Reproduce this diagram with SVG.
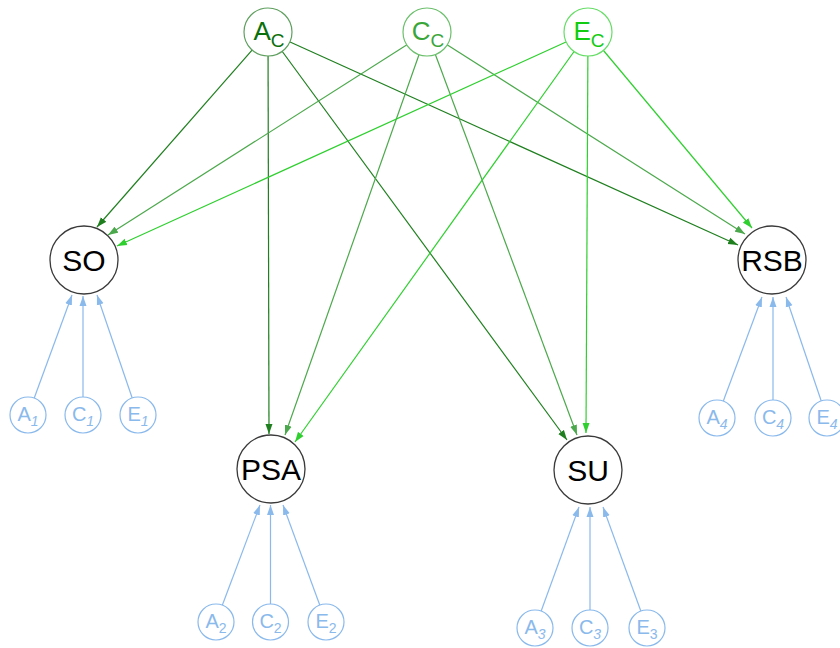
<svg xmlns="http://www.w3.org/2000/svg" width="840" height="648" viewBox="0 0 840 648">
<style>
text{font-family:"Liberation Sans",Arial,sans-serif;text-anchor:middle}
.big circle{fill:#fff;stroke:#3a3a3a;stroke-width:1.3}
.big text{font-size:30px;fill:#000}
.lat circle{fill:#fff;stroke:#8ab9ec;stroke-width:1.2}
.lat text{font-size:20px;fill:#8ab9ec}
.lat tspan{font-size:14px}
.it{font-style:italic}
.top text{font-size:26px}
.top tspan{font-size:19px}
.e{fill:none;stroke-width:1.2}
.ea{stroke:#1f7f1f;marker-end:url(#ma)}
.ec{stroke:#4ca84c;marker-end:url(#mc)}
.ee{stroke:#2fcf2f;marker-end:url(#me)}
.eb{stroke:#8ab9ec;marker-end:url(#mb)}
</style>
<defs>
<marker id="ma" markerUnits="userSpaceOnUse" markerWidth="10" markerHeight="8" refX="10" refY="4" orient="auto"><path d="M0,0.5 L10,4 L0,7.5 z" fill="#1f7f1f"/></marker>
<marker id="mc" markerUnits="userSpaceOnUse" markerWidth="10" markerHeight="8" refX="10" refY="4" orient="auto"><path d="M0,0.5 L10,4 L0,7.5 z" fill="#4ca84c"/></marker>
<marker id="me" markerUnits="userSpaceOnUse" markerWidth="10" markerHeight="8" refX="10" refY="4" orient="auto"><path d="M0,0.5 L10,4 L0,7.5 z" fill="#2fcf2f"/></marker>
<marker id="mb" markerUnits="userSpaceOnUse" markerWidth="10" markerHeight="8" refX="10" refY="4" orient="auto"><path d="M0,0.5 L10,4 L0,7.5 z" fill="#8ab9ec"/></marker>
</defs>
<rect width="840" height="648" fill="#fff"/>
<g id="connectors">
<line class="e ea" x1="268" y1="32" x2="97" y2="227"/>
<line class="e ea" x1="268" y1="32" x2="269" y2="434"/>
<line class="e ea" x1="268" y1="32" x2="567" y2="440"/>
<line class="e ea" x1="268" y1="32" x2="738" y2="245"/>
<line class="e ec" x1="427" y1="32" x2="108" y2="235"/>
<line class="e ec" x1="427" y1="32" x2="285" y2="435"/>
<line class="e ec" x1="427" y1="32" x2="577" y2="435"/>
<line class="e ec" x1="427" y1="32" x2="745" y2="234"/>
<line class="e ee" x1="588" y1="32" x2="117" y2="246"/>
<line class="e ee" x1="588" y1="32" x2="295" y2="442"/>
<line class="e ee" x1="588" y1="32" x2="586" y2="433"/>
<line class="e ee" x1="588" y1="32" x2="752" y2="228"/>
<line class="e eb" x1="28" y1="415" x2="72" y2="295"/>
<line class="e eb" x1="83" y1="415" x2="83" y2="296"/>
<line class="e eb" x1="138" y1="415" x2="97" y2="295"/>
<line class="e eb" x1="216" y1="622" x2="260" y2="505"/>
<line class="e eb" x1="270.5" y1="622" x2="270.5" y2="505"/>
<line class="e eb" x1="326" y1="622" x2="283" y2="505"/>
<line class="e eb" x1="535" y1="628" x2="579" y2="507"/>
<line class="e eb" x1="590" y1="628" x2="590" y2="507"/>
<line class="e eb" x1="647" y1="628" x2="603" y2="507"/>
<line class="e eb" x1="717" y1="418" x2="762" y2="297"/>
<line class="e eb" x1="773" y1="418" x2="773" y2="297"/>
<line class="e eb" x1="827" y1="418" x2="786" y2="297"/>
</g>
<g id="node-Ac" class="top"><circle cx="268" cy="32" r="24" fill="#fff" stroke="#5f9f5f" stroke-width="1.2"/><text x="269" y="40" fill="#0a700a">A<tspan dy="7">C</tspan></text></g>
<g id="node-Cc" class="top"><circle cx="427" cy="32" r="24" fill="#fff" stroke="#6cbf6c" stroke-width="1.2"/><text x="428" y="40" fill="#3aa63a">C<tspan dy="7">C</tspan></text></g>
<g id="node-Ec" class="top"><circle cx="588" cy="32" r="24" fill="#fff" stroke="#66dd66" stroke-width="1.2"/><text x="589" y="40" fill="#11cc11">E<tspan dy="7">C</tspan></text></g>
<g id="node-SO" class="big"><circle cx="84" cy="260" r="34"/><text x="84" y="271">SO</text></g>
<g id="node-PSA" class="big"><circle cx="271" cy="469" r="34"/><text x="271" y="480">PSA</text></g>
<g id="node-SU" class="big"><circle cx="588" cy="470" r="34"/><text x="588" y="481">SU</text></g>
<g id="node-RSB" class="big"><circle cx="772" cy="260" r="34"/><text x="772" y="271">RSB</text></g>
<g id="node-A1" class="lat"><circle cx="28" cy="415" r="18"/><text x="28" y="421">A<tspan class="it" dy="5">1</tspan></text></g>
<g id="node-C1" class="lat"><circle cx="83" cy="415" r="18"/><text x="83" y="421">C<tspan class="it" dy="5">1</tspan></text></g>
<g id="node-E1" class="lat"><circle cx="138" cy="415" r="18"/><text x="138" y="421">E<tspan class="it" dy="5">1</tspan></text></g>
<g id="node-A2" class="lat"><circle cx="216" cy="622" r="18"/><text x="216" y="628">A<tspan dy="5">2</tspan></text></g>
<g id="node-C2" class="lat"><circle cx="270.5" cy="622" r="18"/><text x="270.5" y="628">C<tspan dy="5">2</tspan></text></g>
<g id="node-E2" class="lat"><circle cx="326" cy="622" r="18"/><text x="326" y="628">E<tspan dy="5">2</tspan></text></g>
<g id="node-A3" class="lat"><circle cx="535" cy="628" r="18"/><text x="535" y="634">A<tspan class="it" dy="5">3</tspan></text></g>
<g id="node-C3" class="lat"><circle cx="590" cy="628" r="18"/><text x="590" y="634">C<tspan class="it" dy="5">3</tspan></text></g>
<g id="node-E3" class="lat"><circle cx="647" cy="628" r="18"/><text x="647" y="634">E<tspan dy="5">3</tspan></text></g>
<g id="node-A4" class="lat"><circle cx="717" cy="418" r="18"/><text x="717" y="424">A<tspan class="it" dy="5">4</tspan></text></g>
<g id="node-C4" class="lat"><circle cx="773" cy="418" r="18"/><text x="773" y="424">C<tspan class="it" dy="5">4</tspan></text></g>
<g id="node-E4" class="lat"><circle cx="827" cy="418" r="18"/><text x="827" y="424">E<tspan class="it" dy="5">4</tspan></text></g>
</svg>
